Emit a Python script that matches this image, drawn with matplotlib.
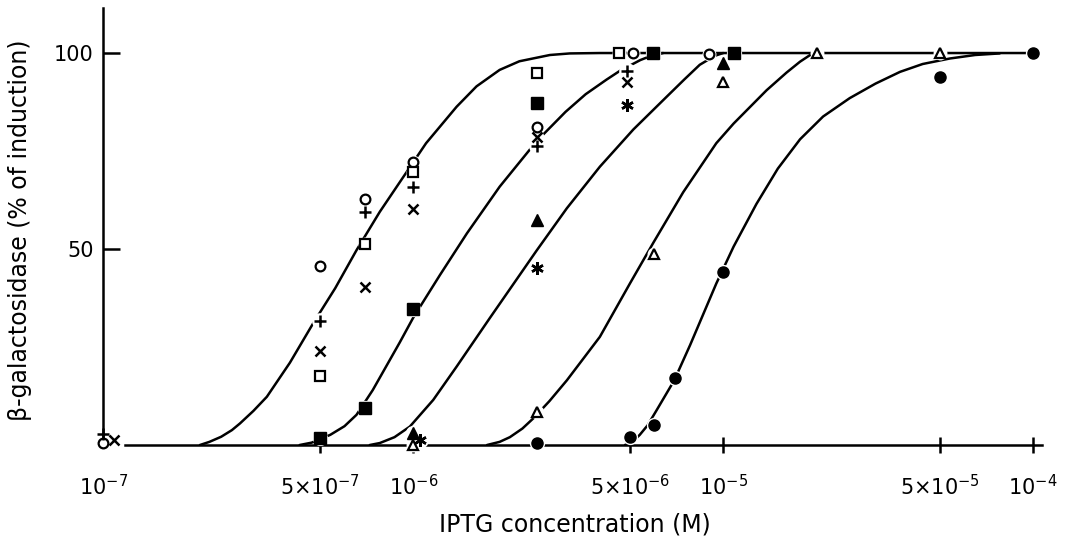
import matplotlib
matplotlib.use('Agg')
import matplotlib.pyplot as plt
from matplotlib import ticker
import numpy as np

plt.rcParams['font.family'] = ['DejaVu Sans']
plt.rcParams['mathtext.fontset'] = 'dejavusans'

# measured points (IPTG concentration in M, % of induction)
open_circle_x = [1e-7, 5e-7, 7e-7, 1e-6, 2.5e-6, 5.1e-6, 9e-6]
open_circle_y = [0.4, 45.7, 62.7, 72.3, 81.2, 100, 99.7]
plus_x = [1e-7, 5e-7, 7e-7, 1e-6, 2.5e-6, 4.9e-6]
plus_y = [2.7, 31.7, 59.5, 65.9, 76.3, 95.5]
cross_x = [1.08e-7, 5e-7, 7e-7, 1e-6, 2.5e-6, 4.9e-6]
cross_y = [1.3, 24.1, 40.2, 60.2, 78.6, 92.7]
open_square_x = [5e-7, 7e-7, 1e-6, 2.5e-6, 4.6e-6]
open_square_y = [17.6, 51.2, 69.6, 94.8, 99.9]
filled_square_x = [5e-7, 7e-7, 1e-6, 2.5e-6, 5.95e-6, 1.08e-5]
filled_square_y = [1.7, 9.4, 34.7, 87.2, 100, 100]
filled_tri_x = [1e-6, 2.5e-6, 1e-5]
filled_tri_y = [3, 57.4, 97.4]
asterisk_x = [1.05e-6, 2.5e-6, 4.9e-6]
asterisk_y = [1.3, 45.2, 86.7]
open_tri_x = [1e-6, 2.5e-6, 6e-6, 1e-5, 2e-5, 5e-5]
open_tri_y = [0, 8.5, 48.7, 92.7, 100, 100]
filled_circle_x = [2.5e-6, 5e-6, 6e-6, 7e-6, 1e-5, 5e-5, 1e-4]
filled_circle_y = [0.4, 2, 5.1, 17.2, 44.2, 94, 100]

# hand drawn curves
curve1_x = [2.05e-7, 2.2e-7, 2.4e-7, 2.6e-7, 2.76e-7, 3.05e-7, 3.37e-7, 4.0e-7, 4.75e-7,
            5.6e-7, 6.56e-7, 7.8e-7, 9.29e-7, 1.1e-6, 1.38e-6, 1.6e-6, 1.9e-6, 2.2e-6,
            2.76e-6, 3.2e-6, 4.0e-6, 1e-4]
curve1_y = [0, 0.8, 2.1, 3.8, 5.5, 8.7, 12.3, 21, 31, 40, 49.7, 59.5, 68.4, 77, 86.3,
            91.5, 95.7, 97.9, 99.5, 99.9, 100, 100]
curve2_x = [4.3e-7, 4.7e-7, 5.08e-7, 5.4e-7, 6.0e-7, 6.56e-7, 7.4e-7, 9.05e-7, 1.0e-6,
            1.22e-6, 1.49e-6, 1.9e-6, 2.5e-6, 3.1e-6, 3.6e-6, 4.2e-6, 4.65e-6, 5.4e-6,
            5.9e-6, 6.4e-6]
curve2_y = [0, 0.6, 1.7, 2.6, 4.8, 7.7, 14, 26.2, 32.5, 43.4, 54, 65.9, 77.5, 85, 89.5,
            93.2, 95.5, 98.2, 99.4, 100]
curve3_x = [7.24e-7, 7.8e-7, 8.7e-7, 9.75e-7, 1.16e-6, 1.38e-6, 1.77e-6, 2.5e-6, 3.13e-6,
            4.0e-6, 5.13e-6, 6.56e-6, 7.5e-6, 8.4e-6, 9.4e-6, 1.0e-5]
curve3_y = [0, 0.5, 2.0, 4.7, 11.5, 20, 32.5, 49.6, 60.4, 71, 80.5, 88.8, 93.3, 97,
            99.3, 100]
curve4_x = [1.73e-6, 1.9e-6, 2.05e-6, 2.25e-6, 2.44e-6, 2.75e-6, 3.13e-6, 4.0e-6, 5.0e-6,
            5.94e-6, 7.43e-6, 9.5e-6, 1.08e-5, 1.38e-5, 1.6e-5, 1.77e-5, 1.95e-5]
curve4_y = [0, 0.8, 2, 4.2, 6.8, 11.2, 16.5, 27.6, 41.2, 51.5, 64.5, 77, 82, 90.5, 95,
            97.8, 100]
curve5_x = [4.82e-6, 5.1e-6, 5.38e-6, 5.7e-6, 6.1e-6, 6.95e-6, 7.82e-6, 9.5e-6, 1.08e-5,
            1.28e-5, 1.5e-5, 1.77e-5, 2.1e-5, 2.56e-5, 3.1e-5, 3.72e-5, 4.4e-5, 5.38e-5,
            6.5e-5, 7.8e-5]
curve5_y = [0, 0.8, 2.6, 5, 8.9, 16.5, 25.5, 41.2, 50.6, 61.5, 70.5, 78, 83.8, 88.5,
            92.2, 95.2, 97.2, 98.6, 99.5, 99.9]

xtick_vals = [1e-7, 5e-7, 1e-6, 5e-6, 1e-5, 5e-5, 1e-4]
xtick_labels = [r'$10^{-7}$', r'$5{\times}10^{-7}$', r'$10^{-6}$', r'$5{\times}10^{-6}$',
                r'$10^{-5}$', r'$5{\times}10^{-5}$', r'$10^{-4}$']
ytick_vals = [50, 100]

fig = plt.figure(figsize=(10.75, 5.4), dpi=100)
ax = fig.add_axes([103.3 / 1075, 95 / 540, (1046 - 103.3) / 1075, 439 / 540])
ax.set_xscale('log')
ax.set_xlim(1e-7, 1.1e-4)
ax.set_ylim(0, 112)

lw = 1.8
for cx, cy in [(curve1_x, curve1_y), (curve2_x, curve2_y), (curve3_x, curve3_y),
               (curve4_x, curve4_y), (curve5_x, curve5_y)]:
    ax.plot(cx, cy, color='black', lw=lw, zorder=1, solid_capstyle='round',
            solid_joinstyle='round')

series = [
    (open_circle_x, open_circle_y, dict(marker='o', ms=7, mfc='white', mec='black', mew=1.6)),
    (plus_x, plus_y, dict(marker='+', ms=9, mec='black', mew=1.8)),
    (cross_x, cross_y, dict(marker='x', ms=7, mec='black', mew=1.8)),
    (open_square_x, open_square_y, dict(marker='s', ms=7, mfc='white', mec='black', mew=1.6)),
    (filled_square_x, filled_square_y, dict(marker='s', ms=8, mfc='black', mec='black')),
    (filled_tri_x, filled_tri_y, dict(marker='^', ms=8, mfc='black', mec='black')),
    (asterisk_x, asterisk_y, dict(marker=(6, 2, 0), ms=9, mec='black', mew=1.8)),
    (open_tri_x, open_tri_y, dict(marker='^', ms=7, mfc='white', mec='black', mew=1.6)),
    (filled_circle_x, filled_circle_y, dict(marker='o', ms=8, mfc='black', mec='black')),
]
for sx, sy, style in series:
    # white halo so the lines break around the symbols
    ax.plot(sx, sy, ls='none', marker='o', ms=style['ms'] + 3, mfc='white', mec='none',
            zorder=2, clip_on=False)
for sx, sy, style in series:
    ax.plot(sx, sy, ls='none', zorder=3, clip_on=False, **style)

for side in ['top', 'right']:
    ax.spines[side].set_visible(False)
ax.spines['left'].set_linewidth(lw)
ax.spines['bottom'].set_linewidth(lw)
ax.spines['left'].set_bounds(2, 111.5)
ax.spines['bottom'].set_bounds(1.175e-7, 1.07e-4)
ax.spines['bottom'].set_zorder(1)

ax.set_xticks(xtick_vals)
ax.set_xticklabels(xtick_labels)
ax.xaxis.set_minor_locator(ticker.NullLocator())
ax.set_yticks(ytick_vals)
ax.set_yticklabels([str(v) for v in ytick_vals])
ax.tick_params(axis='x', direction='inout', length=11.5, width=lw, pad=15, labelsize=15)
ax.tick_params(axis='y', direction='in', length=12.5, width=lw, pad=7, labelsize=15)
ax.xaxis.get_major_ticks()[0].tick1line.set_visible(False)

ax.set_xlabel('IPTG concentration (M)', fontsize=17, va='center')
ax.xaxis.set_label_coords(0.5, -0.182)
ax.set_ylabel('β-galactosidase (% of induction)', fontsize=17, va='center')
ax.yaxis.set_label_coords(-0.088, 0.49)

fig.savefig('out.png', dpi=100)
